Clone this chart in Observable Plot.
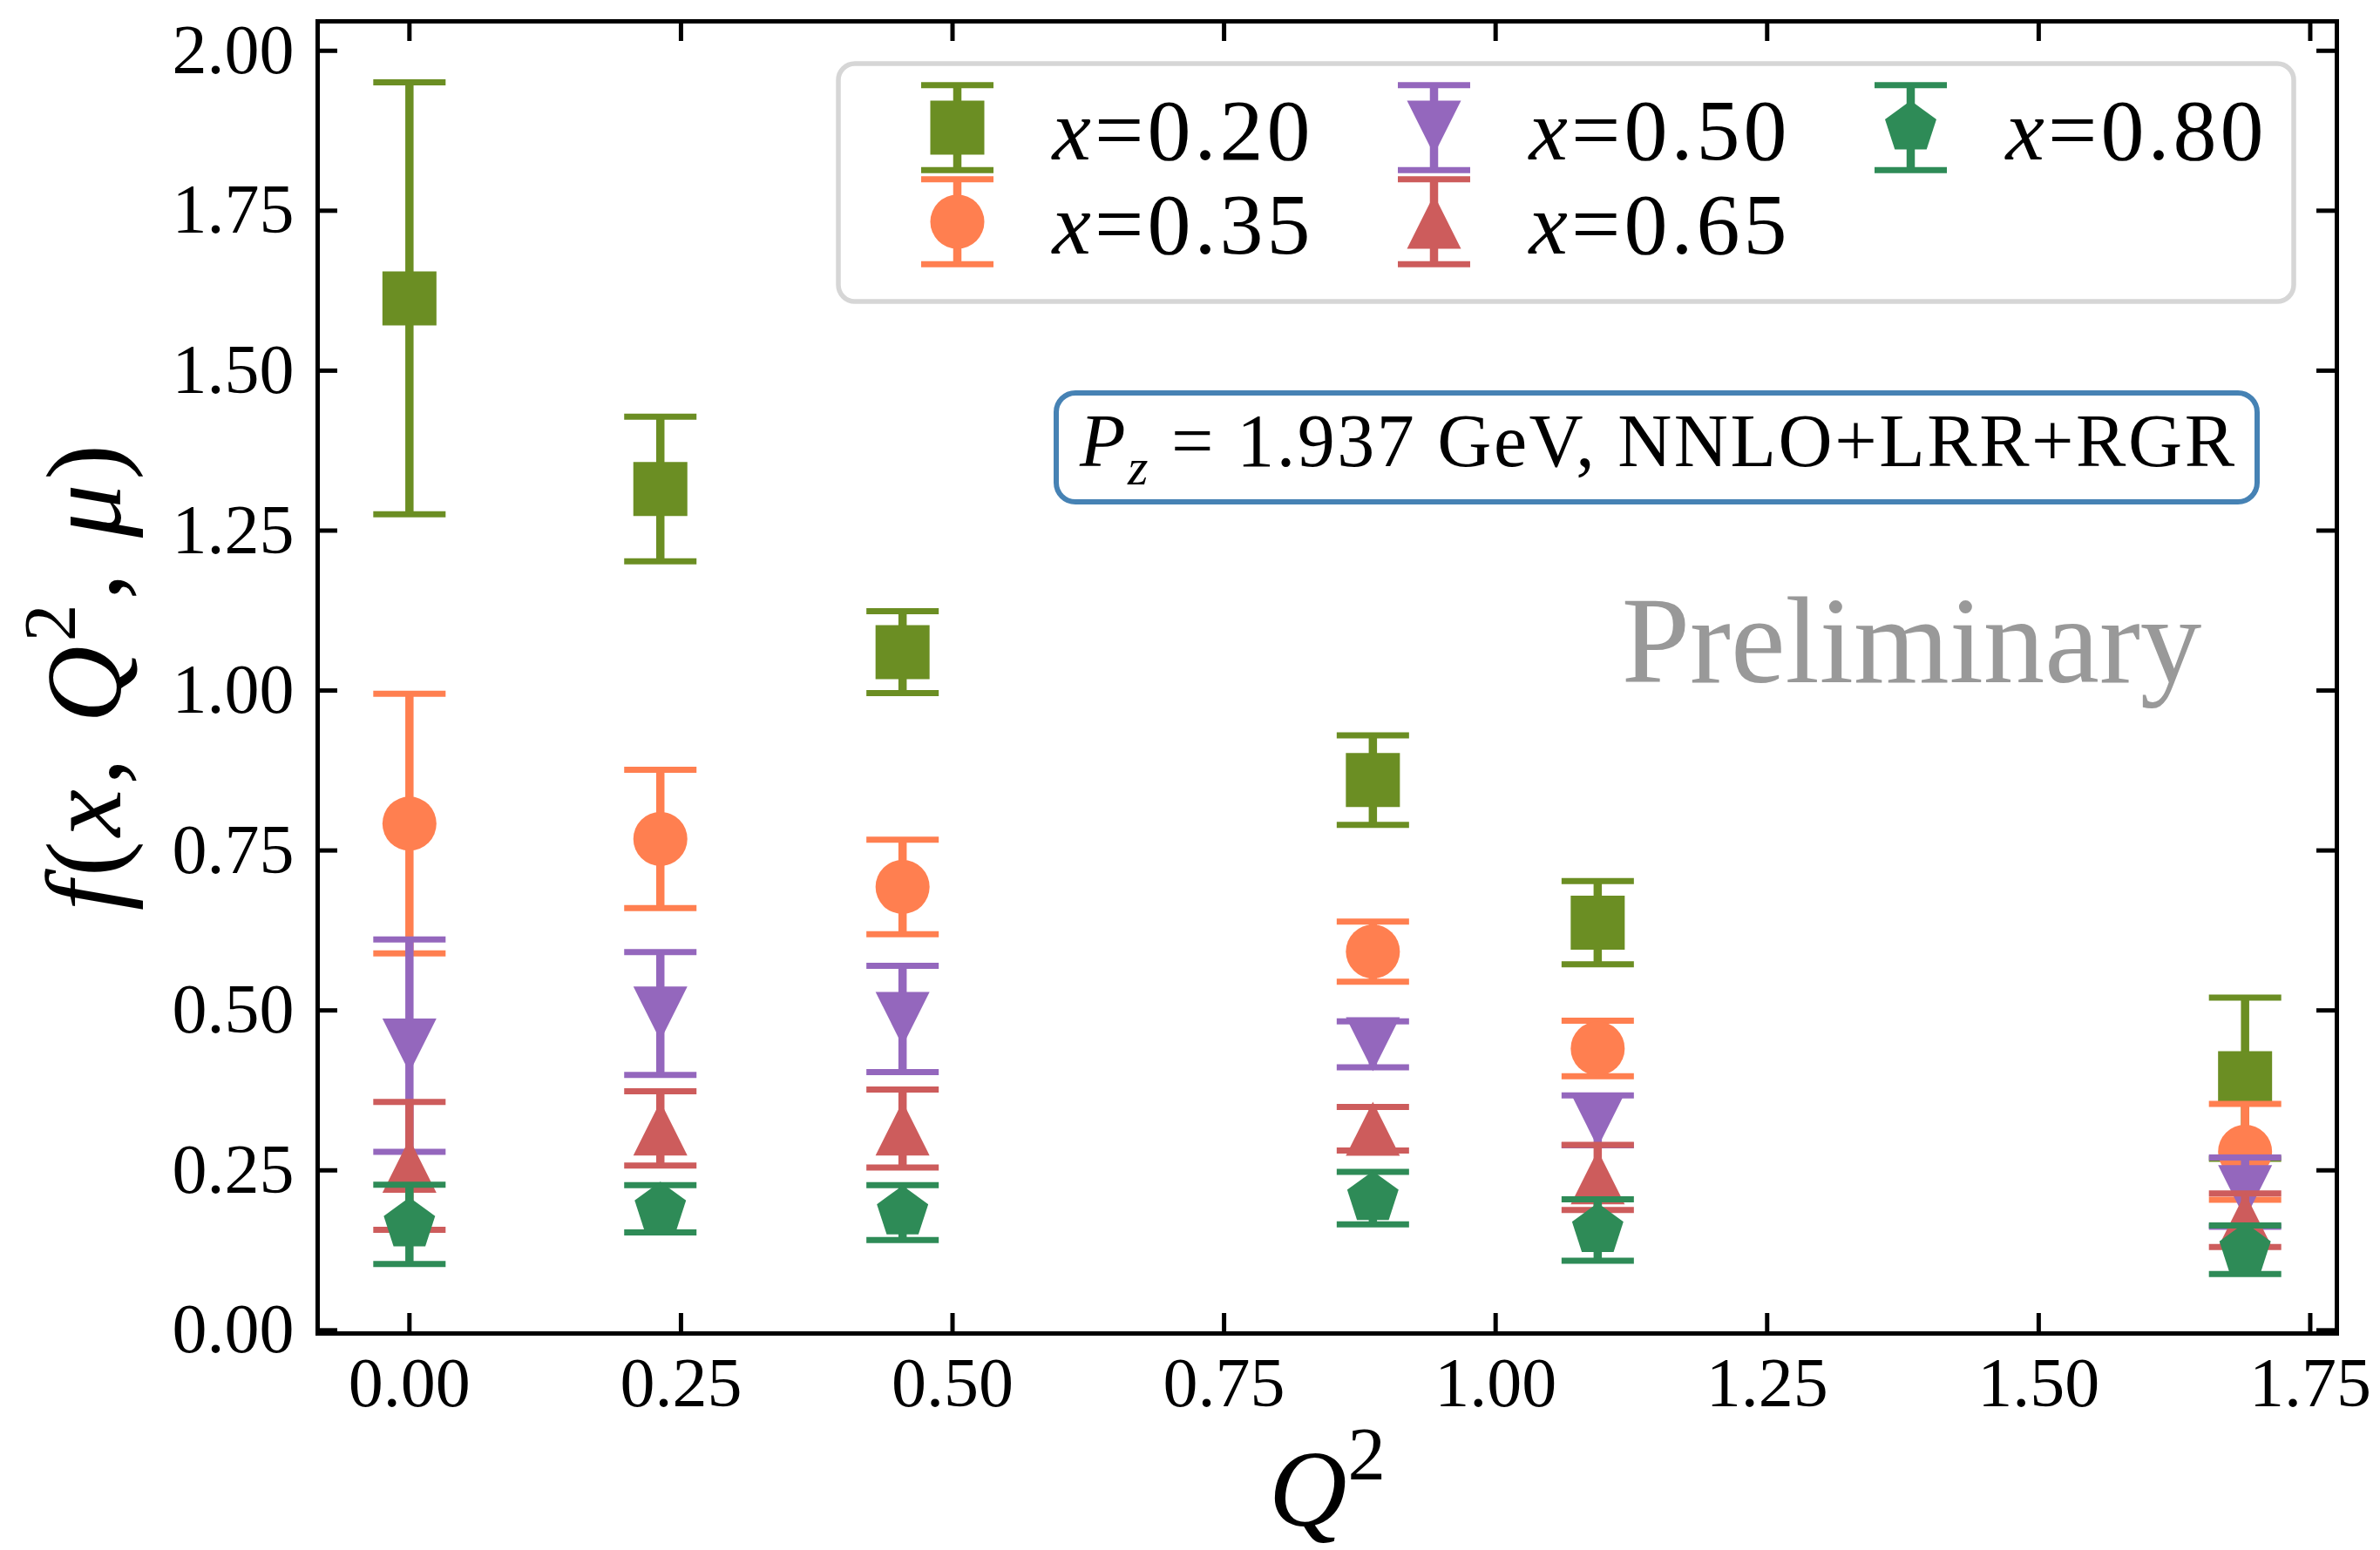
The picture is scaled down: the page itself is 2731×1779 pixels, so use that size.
<!DOCTYPE html>
<html>
<head>
<meta charset="utf-8">
<script src="https://cdn.jsdelivr.net/npm/d3@7"></script>
<script src="https://cdn.jsdelivr.net/npm/@observablehq/plot@0.6"></script>
<style>
  html, body { margin: 0; padding: 0; background: #ffffff; overflow: hidden; }
</style>
</head>
<body>
<div id="chart"></div>
<script>
// ---------------- DATA ----------------
const q2 = [0, 0.231, 0.454, 0.887, 1.094, 1.690];
const seriesNames = ["x=0.20", "x=0.35", "x=0.50", "x=0.65", "x=0.80"];

const f_x020 = [1.613, 1.315, 1.060, 0.860, 0.637, 0.394];
const e_x020 = [0.3375, 0.113, 0.064, 0.070, 0.065, 0.126];
const f_x035 = [0.792, 0.768, 0.693, 0.592, 0.4405, 0.279];
const e_x035 = [0.203, 0.108, 0.074, 0.047, 0.0435, 0.075];
const f_x050 = [0.445, 0.495, 0.4867, 0.447, 0.328, 0.216];
const e_x050 = [0.166, 0.096, 0.083, 0.036, 0.039, 0.054];
const f_x065 = [0.257, 0.3155, 0.3154, 0.315, 0.239, 0.172];
const e_x065 = [0.100, 0.058, 0.061, 0.034, 0.051, 0.042];
const f_x080 = [0.1655, 0.190, 0.184, 0.2066, 0.1566, 0.126];
const e_x080 = [0.062, 0.037, 0.043, 0.041, 0.048, 0.038];

const xTicks = [0, 0.25, 0.5, 0.75, 1.0, 1.25, 1.5, 1.75];
const yTicks = [0, 0.25, 0.5, 0.75, 1.0, 1.25, 1.5, 1.75, 2.0];

const xLabel = "Q2";
const yLabel = "f(x, Q2, μ)";
const boxText = "Pz = 1.937 GeV, NNLO+LRR+RGR";
const watermark = "Preliminary";

// ---------------- STYLE / LAYOUT ----------------
const W = 2731, H = 1779;
const ML = 364, MR = 50, MT = 24, MB = 249;
const X0 = -0.0845, X1 = 1.7745, Y0 = -0.005, Y1 = 2.046;
const FW = W - ML - MR, FH = H - MT - MB;
const FONT = "'Liberation Serif', 'DejaVu Serif', serif";
const colors = ["#6b8e23", "#ff7f50", "#9467bd", "#cd5c5c", "#2e8b57"];

const px2x = px => X0 + (px - ML) / FW * (X1 - X0);
const px2y = py => Y1 - (py - MT) / FH * (Y1 - Y0);

const rad = s => Math.sqrt(s / Math.PI);
const symSquare = {draw(c, s) { const r = rad(s); c.moveTo(-r, -r); c.lineTo(r, -r); c.lineTo(r, r); c.lineTo(-r, r); c.closePath(); }};
const symCircle = {draw(c, s) { const r = rad(s); c.moveTo(r, 0); c.arc(0, 0, r, 0, 2 * Math.PI); c.closePath(); }};
const symTriDown = {draw(c, s) { const r = rad(s); c.moveTo(0, r); c.lineTo(-r, -r); c.lineTo(r, -r); c.closePath(); }};
const symTriUp = {draw(c, s) { const r = rad(s); c.moveTo(0, -r); c.lineTo(-r, r); c.lineTo(r, r); c.closePath(); }};
const symPentagon = {draw(c, s) { const r = rad(s); for (let k = 0; k < 5; k++) { const a = -Math.PI / 2 + k * 2 * Math.PI / 5; const px = r * Math.cos(a), py = r * Math.sin(a); if (k === 0) c.moveTo(px, py); else c.lineTo(px, py); } c.closePath(); }};
const symCap = {draw(c, s) { const r = rad(s); c.moveTo(-r, 0); c.lineTo(r, 0); }};
const symbols = [symSquare, symCircle, symTriDown, symTriUp, symPentagon];

const MARKER_R = 31, CAP_R = 41.5, ELW = 9.5, CAPW = 7;

// legend layout (pixels)
const LG = {x1: 962, x2: 2632, y1: 73, y2: 346, colX: [1098, 1645, 2192], rowY: [146, 254], textDx: 109, baseDy: 36.5, half: 48.7};
// annotation box layout (pixels)
const PB = {x1: 1212, x2: 2590, y1: 451, y2: 576, cx: 1901, base: 534};
const WM = {cx: 2193, base: 782};

// ---------------- BUILD ----------------
const seriesValues = [f_x020, f_x035, f_x050, f_x065, f_x080];
const seriesErrors = [e_x020, e_x035, e_x050, e_x065, e_x080];
const rows = seriesNames.flatMap((name, i) =>
  q2.map((q, j) => ({series: name, q2: q, f: seriesValues[i][j], e: seriesErrors[i][j]})));

const marks = [];

// annotation box
marks.push(Plot.rect([{x1: px2x(PB.x1), x2: px2x(PB.x2), y1: px2y(PB.y2), y2: px2y(PB.y1)}],
  {x1: "x1", x2: "x2", y1: "y1", y2: "y2", fill: "white", stroke: "#4682b4", strokeWidth: 6, rx: 22, ry: 22}));
marks.push(Plot.text([boxText], {x: px2x(PB.cx), y: px2y(PB.base), text: d => d, textAnchor: "middle", lineAnchor: "bottom", fontSize: 86, fill: "black"}));

// watermark
marks.push(Plot.text([watermark], {x: px2x(WM.cx), y: px2y(WM.base), text: d => d, textAnchor: "middle", lineAnchor: "bottom", fontSize: 141, fill: "#999999"}));

// data series
seriesNames.forEach((name, i) => {
  const d = rows.filter(r => r.series === name);
  marks.push(Plot.ruleX(d, {x: "q2", y1: r => r.f - r.e, y2: r => r.f + r.e, stroke: colors[i], strokeWidth: ELW}));
  marks.push(Plot.dot(d, {x: "q2", y: r => r.f + r.e, symbol: symCap, r: CAP_R, stroke: colors[i], strokeWidth: CAPW, fill: "none"}));
  marks.push(Plot.dot(d, {x: "q2", y: r => r.f - r.e, symbol: symCap, r: CAP_R, stroke: colors[i], strokeWidth: CAPW, fill: "none"}));
  marks.push(Plot.dot(d, {x: "q2", y: "f", symbol: symbols[i], r: MARKER_R, fill: colors[i]}));
});

// legend
marks.push(Plot.rect([{x1: px2x(LG.x1), x2: px2x(LG.x2), y1: px2y(LG.y2), y2: px2y(LG.y1)}],
  {x1: "x1", x2: "x2", y1: "y1", y2: "y2", fill: "white", fillOpacity: 0.8, stroke: "#d6d6d6", strokeWidth: 5.5, rx: 19, ry: 19}));
seriesNames.forEach((name, i) => {
  const col = Math.floor(i / 2), row = i % 2;
  const cx = LG.colX[col], cy = LG.rowY[row];
  const e = [{name, x: px2x(cx), y: px2y(cy), yt: px2y(cy - LG.half), yb: px2y(cy + LG.half), tx: px2x(cx + LG.textDx), ty: px2y(cy + LG.baseDy)}];
  marks.push(Plot.ruleX(e, {x: "x", y1: "yb", y2: "yt", stroke: colors[i], strokeWidth: ELW}));
  marks.push(Plot.dot(e, {x: "x", y: "yt", symbol: symCap, r: CAP_R, stroke: colors[i], strokeWidth: CAPW, fill: "none"}));
  marks.push(Plot.dot(e, {x: "x", y: "yb", symbol: symCap, r: CAP_R, stroke: colors[i], strokeWidth: CAPW, fill: "none"}));
  marks.push(Plot.dot(e, {x: "x", y: "y", symbol: symbols[i], r: MARKER_R, fill: colors[i]}));
  marks.push(Plot.text(e, {x: "tx", y: "ty", text: "name", textAnchor: "start", lineAnchor: "bottom", fontSize: 100, fill: "black"}));
});

// inward ticks on all four sides
const TL = 23, TW = 5;
marks.push(Plot.tickY(yTicks, {y: d => d, stroke: "black", strokeWidth: TW, insetRight: FW - TL}));
marks.push(Plot.tickY(yTicks, {y: d => d, stroke: "black", strokeWidth: TW, insetLeft: FW - TL}));
marks.push(Plot.tickX(xTicks, {x: d => d, stroke: "black", strokeWidth: TW, insetTop: FH - TL}));
marks.push(Plot.tickX(xTicks, {x: d => d, stroke: "black", strokeWidth: TW, insetBottom: FH - TL}));

// tick labels
marks.push(Plot.axisY({ticks: yTicks, tickSize: 0, tickPadding: 27, tickFormat: d => d.toFixed(2), label: null, fontSize: 80}));
marks.push(Plot.axisX({ticks: xTicks, tickSize: 0, tickPadding: 27, tickFormat: d => d.toFixed(2), label: null, fontSize: 80}));

// axis labels
marks.push(Plot.text([xLabel], {frameAnchor: "bottom", dy: 220, text: d => d, textAnchor: "middle", lineAnchor: "bottom", fontSize: 124, fill: "black"}));
marks.push(Plot.text([yLabel], {frameAnchor: "left", dx: 137 - ML, rotate: -90, text: d => d, textAnchor: "middle", lineAnchor: "bottom", fontSize: 122, fill: "black"}));

// spines
marks.push(Plot.frame({stroke: "black", strokeWidth: 5}));

const chart = Plot.plot({
  width: W, height: H,
  marginLeft: ML, marginRight: MR, marginTop: MT, marginBottom: MB,
  x: {domain: [X0, X1], label: null},
  y: {domain: [Y0, Y1], label: null},
  style: {fontFamily: FONT, fontSize: "80px", background: "white", color: "black"},
  marks
});

// ---------------- RICH TEXT (italic math, sub/superscripts) ----------------
const rich = new Map([
  [yLabel, {size: 122, len: 535, parts: [["f", "i"], ["(", ""], ["x", "i"], [", ", ""], ["Q", "i"], ["2", "sup"], [", ", ""], ["μ", "i"], [")", ""]]}],
  [xLabel, {size: 124, len: 134, parts: [["Q", "i"], ["2", "sup"]]}],
  [boxText, {size: 86, len: 1325, parts: [["P", "i"], ["z", "isub"], [" = 1.937 GeV, NNLO+LRR+RGR", ""]]}],
  ...seriesNames.map(n => [n, {size: 100, len: 296, parts: [["x", "i"], [n.slice(1), ""]]}])
]);
d3.select(chart).selectAll("text").each(function() {
  const spec = rich.get(this.textContent);
  if (!spec) return;
  const sel = d3.select(this);
  sel.text(null);
  let shifted = 0;
  for (const [t, st] of spec.parts) {
    const ts = sel.append("tspan").text(t);
    if (st.includes("i")) ts.attr("font-style", "italic");
    if (st.includes("sub")) {
      const s = spec.size * 0.25;
      ts.attr("font-size", spec.size * 0.7).attr("dy", s - shifted);
      shifted = s;
    } else if (st.includes("sup")) {
      const s = -spec.size * 0.42;
      ts.attr("font-size", spec.size * 0.7).attr("dy", s - shifted);
      shifted = s;
    } else if (shifted) {
      ts.attr("dy", -shifted);
      shifted = 0;
    }
  }
  if (spec.len) sel.attr("textLength", spec.len).attr("lengthAdjust", "spacing");
});

document.getElementById("chart").appendChild(chart);
</script>
</body>
</html>
